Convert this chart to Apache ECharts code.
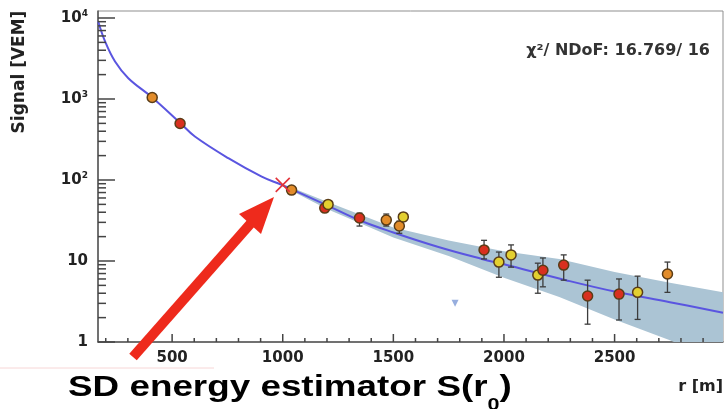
<!DOCTYPE html>
<html style="height: 100%">
<head>
    <meta charset="utf-8">
    <title>SD energy estimator</title>
</head>
<body style="height: 100%; margin: 0; background: #fff">
<div id="container" style="width: 725px; height: 409px"></div>
<script type="text/javascript" src="https://cdn.jsdelivr.net/npm/echarts@6/dist/echarts.min.js"></script>
<script type="text/javascript">
    // station signals
    var stationR = [410, 536, 1040, 1190, 1205, 1347, 1468, 1527, 1545, 1910, 1977, 2032, 2153, 2176, 2270, 2378, 2520, 2604, 2739];
    var stationS = [1045, 499, 75, 45, 50, 34, 32, 27, 35, 13.7, 9.7, 11.9, 6.7, 7.7, 8.9, 3.7, 3.9, 4.1, 6.9];
    var errLow  = [null, null, null, 41, 46, 27, 27, 22, 31, 10.6, 6.3, 8.4, 4.0, 4.8, 5.8, 1.66, 1.87, 1.9, 4.1];
    var errHigh = [null, null, null, 50, 55, 39, 38, 31, 39, 18, 12.9, 15.8, 9.4, 10.9, 11.9, 5.8, 6.0, 6.5, 9.7];
    var stationType = ['o', 'r', 'o', 'r', 'y', 'r', 'o', 'o', 'y', 'r', 'y', 'y', 'y', 'r', 'r', 'r', 'r', 'y', 'o'];

    // silent station (down triangle)
    var silentR = [1779];
    var silentS = [3.0];

    // LDF fit and its uncertainty band
    var fitR = [166, 197, 242, 302, 410, 539, 603, 754, 905, 995, 1200, 1350, 1500, 1700, 1900, 2000, 2280, 2500, 2750, 2990];
    var fitS = [9060, 5130, 2900, 1807, 1045, 499, 344, 186, 110, 87, 48.7, 31.6, 22.5, 15, 10.6, 9.1, 5.8, 4.2, 3.1, 2.3];
    var bandR  = [1000, 1200, 1500, 1750, 2000, 2250, 2500, 2750, 2990];
    var bandUp = [89, 54, 26, 17.9, 13.2, 10.6, 7.3, 5.4, 4.1];
    var bandLo = [84, 44, 19.5, 11.5, 6.2, 3.6, 1.9, 1.05, 0.55];

    // S(r0) estimate
    var r0 = [1000];
    var sr0 = [87];

    // axis ticks
    var yMajor = [1, 10, 100, 1000, 10000];
    var yMinor = [2, 3, 4, 5, 6, 7, 8, 9, 20, 30, 40, 50, 60, 70, 80, 90, 200, 300, 400, 500, 600, 700, 800, 900, 2000, 3000, 4000, 5000, 6000, 7000, 8000, 9000];
    var xMajor = [500, 1000, 1500, 2000, 2500];
    var xMinor = [200, 300, 400, 600, 700, 800, 900, 1100, 1200, 1300, 1400, 1600, 1700, 1800, 1900, 2100, 2200, 2300, 2400, 2600, 2700, 2800, 2900];

    var xMin = 165, xMax = 2990, yMin = 1, yMax = 12200;
    var typeColor = { r: '#d8301f', o: '#e28c2a', y: '#e3cf30' };
    var labelFont = { fontFamily: 'DejaVu Sans', fontWeight: 'bold', color: '#222' };

    var dom = document.getElementById("container");
    var myChart = echarts.init(dom, null, { renderer: 'canvas' });

    var points = stationR.map(function (r, i) {
        return { value: [r, stationS[i]], itemStyle: { color: typeColor[stationType[i]] } };
    });
    var bars = [];
    stationR.forEach(function (r, i) {
        if (errLow[i] != null) bars.push([r, errLow[i], errHigh[i]]);
    });

    var option = {
        animation: false,
        backgroundColor: '#fff',
        grid: {
            left: 98, top: 11, right: 2, bottom: 67,
            show: true, borderColor: '#8f8f8f', borderWidth: 1
        },
        xAxis: {
            type: 'value', min: xMin, max: xMax,
            axisLine: { lineStyle: { color: '#555', width: 1.5 } },
            axisTick: { show: false },
            axisLabel: Object.assign({
                fontSize: 15, margin: 9, customValues: xMajor,
                formatter: function (v) { return String(v); }
            }, labelFont),
            splitLine: { show: false }
        },
        yAxis: {
            type: 'log', logBase: 10, min: yMin, max: yMax,
            axisLine: { show: true, lineStyle: { color: '#555', width: 1.5 } },
            axisTick: { show: false },
            axisLabel: Object.assign({
                fontSize: 15, margin: 10, customValues: yMajor,
                formatter: function (v) {
                    if (v < 50) return '{b|' + Math.round(v) + '}';
                    return '{b|10}{s|' + Math.round(Math.log10(v)) + '}';
                },
                rich: {
                    b: Object.assign({ fontSize: 15 }, labelFont),
                    s: Object.assign({ fontSize: 9, padding: [0, 0, 9, 0] }, labelFont)
                }
            }, labelFont),
            splitLine: { show: false }
        },
        series: [{
            // fit uncertainty band
            type: 'custom',
            clip: true,
            silent: true,
            z: 1,
            data: [[bandR[0], bandUp[0]]],
            renderItem: function (params, api) {
                var pts = [];
                var i;
                for (i = 0; i < bandR.length; i++) pts.push(api.coord([bandR[i], bandUp[i]]));
                for (i = bandR.length - 1; i >= 0; i--) pts.push(api.coord([bandR[i], bandLo[i]]));
                return { type: 'polygon', shape: { points: pts }, style: { fill: '#abc4d4' } };
            }
        }, {
            name: 'fit',
            type: 'line',
            smooth: 0.4,
            showSymbol: false,
            z: 3,
            lineStyle: { color: '#5a55e0', width: 2 },
            data: fitR.map(function (r, i) { return [r, fitS[i]]; })
        }, {
            // error bars
            type: 'custom',
            z: 4,
            clip: true,
            data: bars,
            renderItem: function (params, api) {
                var top = api.coord([api.value(0), api.value(2)]);
                var bot = api.coord([api.value(0), api.value(1)]);
                var st = { stroke: '#3c3c3c', lineWidth: 1.3 };
                return {
                    type: 'group',
                    children: [
                        { type: 'line', shape: { x1: top[0], y1: top[1], x2: bot[0], y2: bot[1] }, style: st },
                        { type: 'line', shape: { x1: top[0] - 3, y1: top[1], x2: top[0] + 3, y2: top[1] }, style: st },
                        { type: 'line', shape: { x1: bot[0] - 3, y1: bot[1], x2: bot[0] + 3, y2: bot[1] }, style: st }
                    ]
                };
            }
        }, {
            name: 'stations',
            type: 'scatter',
            z: 5,
            symbol: 'circle',
            symbolSize: 10,
            itemStyle: { borderColor: '#5a3c16', borderWidth: 1.5, opacity: 1 },
            data: points
        }, {
            name: 'silent',
            type: 'scatter',
            z: 5,
            symbol: 'triangle',
            symbolRotate: 180,
            symbolSize: 7,
            itemStyle: { color: '#7d9ad6' },
            data: silentR.map(function (r, i) { return [r, silentS[i]]; })
        }, {
            // S(r0) cross
            type: 'custom',
            z: 6,
            data: r0.map(function (r, i) { return [r, sr0[i]]; }),
            renderItem: function (params, api) {
                var p = api.coord([api.value(0), api.value(1)]);
                var st = { stroke: '#e2333a', lineWidth: 1.6 };
                return {
                    type: 'group',
                    children: [
                        { type: 'line', shape: { x1: p[0] - 7, y1: p[1] - 7, x2: p[0] + 7, y2: p[1] + 7 }, style: st },
                        { type: 'line', shape: { x1: p[0] - 7, y1: p[1] + 7, x2: p[0] + 7, y2: p[1] - 7 }, style: st }
                    ]
                };
            }
        }],
        graphic: [{
            type: 'text', x: 710, y: 51, z: 10,
            style: { text: 'χ²/ NDoF: 16.769/ 16', font: 'bold 16px "DejaVu Sans"', fill: '#333', align: 'right', verticalAlign: 'middle' }
        }, {
            type: 'text', x: 20, y: 72, rotation: Math.PI / 2, z: 10,
            style: { text: 'Signal [VEM]', font: 'bold 17px "DejaVu Sans"', fill: '#222', align: 'center', verticalAlign: 'middle' }
        }, {
            type: 'text', x: 723, y: 387, z: 10,
            style: { text: 'r [m]', font: 'bold 16px "DejaVu Sans"', fill: '#222', align: 'right', verticalAlign: 'middle' }
        }, {
            type: 'line', z: 9,
            shape: { x1: 0, y1: 368, x2: 214, y2: 368 },
            style: { stroke: '#f7d6d6', lineWidth: 1 }
        }, {
            type: 'line', z: 20,
            shape: { x1: 133, y1: 357, x2: 252, y2: 222 },
            style: { stroke: '#ee2a1c', lineWidth: 10 }
        }, {
            type: 'polygon', z: 20,
            shape: { points: [[274, 197], [261, 234], [239, 214]] },
            style: { fill: '#ee2a1c' }
        }, {
            type: 'text', x: 68, y: 388, z: 20, scaleX: 1.27,
            style: {
                text: '{t|SD energy estimator S(r}{sub|0}{t|)}',
                verticalAlign: 'middle',
                rich: {
                    t: { font: 'bold 29px "Liberation Sans"', fill: '#000', lineHeight: 35 },
                    sub: { font: 'bold 17px "Liberation Sans"', fill: '#000', lineHeight: 20, padding: [34, 0, 0, 0] }
                }
            }
        }]
    };

    myChart.setOption(option);

    // ROOT style inward ticks, placed through the axis scales
    var tickStyle = { stroke: '#444', lineWidth: 1.5 };
    var ticks = [];
    function yTick(v, len) {
        var p = myChart.convertToPixel({ gridIndex: 0 }, [xMin, v]);
        ticks.push({ type: 'line', z: 8, shape: { x1: p[0], y1: p[1], x2: p[0] + len, y2: p[1] }, style: tickStyle });
    }
    function xTick(v, len) {
        var p = myChart.convertToPixel({ gridIndex: 0 }, [v, yMin]);
        ticks.push({ type: 'line', z: 8, shape: { x1: p[0], y1: p[1], x2: p[0], y2: p[1] - len }, style: tickStyle });
    }
    yMajor.forEach(function (v) { yTick(v, 17); });
    yMinor.forEach(function (v) { yTick(v, 8); });
    xMajor.forEach(function (v) { xTick(v, 8); });
    xMinor.forEach(function (v) { xTick(v, 4); });
    myChart.setOption({ graphic: option.graphic.concat(ticks) });
</script>
</body>
</html>
